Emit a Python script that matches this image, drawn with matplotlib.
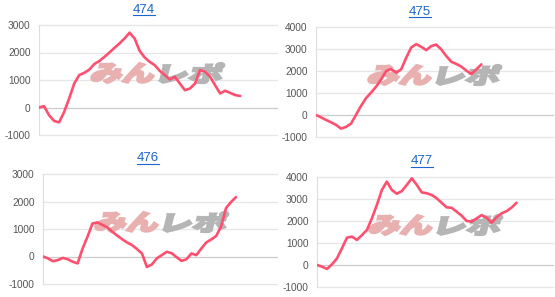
import matplotlib
matplotlib.use("Agg")
import matplotlib.pyplot as plt
from matplotlib.textpath import TextPath
from matplotlib.patches import PathPatch
from matplotlib.font_manager import FontProperties
from matplotlib.transforms import Affine2D
from matplotlib.lines import Line2D

W, H = 555, 297

# --- data ---
titles = ["474", "475", "476", "477"]

s474 = [0, 50, -280, -490, -540, -160, 330, 870, 1180, 1260, 1380, 1580, 1690,
        1840, 2000, 2170, 2330, 2510, 2720, 2510, 2060, 1820, 1660, 1540, 1330,
        1180, 1020, 1120, 870, 630, 690, 870, 1360, 1300, 1120, 810, 510, 610,
        530, 450, 420]
s475 = [0, -105, -225, -330, -450, -620, -540, -390, 15, 420, 770, 1020, 1290,
        1620, 2000, 2090, 1925, 2075, 2600, 3070, 3220, 3100, 2950, 3130, 3200,
        2980, 2680, 2420, 2320, 2200, 2015, 1860, 2075, 2300]
s476 = [0, -70, -170, -130, -50, -100, -190, -250, 290, 720, 1200, 1240, 1150,
        1060, 900, 760, 630, 510, 415, 270, 110, -380, -290, -70, 50, 170, 120,
        -25, -160, -100, 110, 50, 290, 510, 620, 745, 1090, 1760, 1980, 2160]
s477 = [0, -75, -180, 30, 300, 760, 1240, 1290, 1140, 1360, 1590, 2120, 2730,
        3410, 3790, 3410, 3240, 3360, 3640, 3940, 3640, 3300, 3260, 3180, 3030,
        2820, 2620, 2600, 2420, 2240, 2000, 1970, 2120, 2270, 2150, 1920, 2170,
        2350, 2450, 2610, 2830]
series = [s474, s475, s476, s477]

ticks_a = [-1000, 0, 1000, 2000, 3000]
ticks_b = [-1000, 0, 1000, 2000, 3000, 4000]
yticks = [ticks_a, ticks_b, ticks_a, ticks_b]

# axes boxes in pixels: left, top, right, bottom
boxes = [(39, 25, 277, 135), (316, 27, 553, 137),
         (43, 174, 277, 284), (317, 177, 553, 287)]
# title centre / underline position in pixels
title_pos = [(144, 10, 15), (420, 12, 17), (148, 158, 164), (422, 161, 167)]

line_col = "#ff4f6e"
title_col = "#1a66cc"

fig = plt.figure(figsize=(W / 100, H / 100), dpi=100)
wm_font = FontProperties(family="Noto Sans CJK JP", weight="heavy")


def logo(ax, x0, y0, w, h, s, color):
    # watermark text, stretched into a pixel box and slanted
    tp = TextPath((0, 0), s, size=10, prop=wm_font)
    bb = tp.get_extents()
    tr = (Affine2D().translate(-bb.x0, -bb.y0)
          .scale(w / bb.width, h / bb.height)
          .skew_deg(14, 0)
          .translate(x0, H - (y0 + h))
          .scale(1 / W, 1 / H) + fig.transFigure)
    ax.add_patch(PathPatch(tp, transform=tr, fc=color, ec=color, lw=1.6,
                           zorder=1, clip_on=False))


for i in range(4):
    l, t, r, b = boxes[i]
    ax = fig.add_axes([l / W, 1 - b / H, (r - l) / W, (b - t) / H])
    yt = yticks[i]
    vals = series[i]
    ax.set_xlim(0, 47.3)
    ax.set_ylim(yt[0], yt[-1])
    for v in yt:
        ax.axhline(v, color="#cccccc" if v == 0 else "#e6e6e6",
                   lw=0.9, zorder=0, clip_on=False)
    ax.plot(range(len(vals)), vals, color=line_col, lw=1.9,
            solid_joinstyle="round", solid_capstyle="round", zorder=3)
    ax.set_xticks([])
    ax.set_yticks(yt)
    ax.set_yticklabels([str(v) for v in yt], family="Liberation Sans")
    ax.tick_params(axis="y", length=0, pad=6, labelsize=7.3, labelcolor="#555555")
    for sp in ["top", "right", "bottom"]:
        ax.spines[sp].set_visible(False)
    ax.spines["left"].set_color("#dddddd")
    ax.spines["left"].set_linewidth(0.8)
    ax.patch.set_alpha(0)

    logo(ax, l + 51, t + 38, 62, 20, "みん", "#e9b0b0")
    logo(ax, l + 120, t + 38, 61, 20, "レポ", "#b5b5b5")

    cx, cy, uy = title_pos[i]
    fig.text(cx / W, 1 - cy / H, titles[i], ha="center", va="center",
             color=title_col, fontsize=9.5, family="Liberation Sans")
    fig.add_artist(Line2D([(cx - 11) / W, (cx + 11) / W], [1 - uy / H] * 2,
                          color=title_col, lw=0.8))

fig.savefig("out.png", dpi=100)
